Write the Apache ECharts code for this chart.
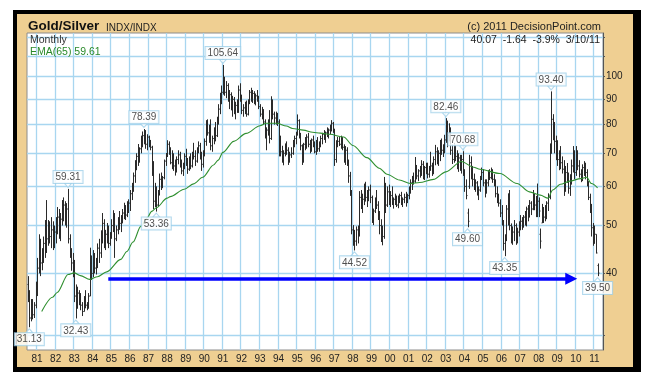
<!DOCTYPE html>
<html><head><meta charset="utf-8">
<script src="https://cdn.jsdelivr.net/npm/echarts@6/dist/echarts.min.js"></script>
<style>html,body{margin:0;padding:0;background:#fff}#c{width:648px;height:381px}</style>
</head><body><div id="c"></div>
<script>
const FONT = "'Liberation Sans', Arial, sans-serif";

// ---- categories: monthly, Jul 1980 .. Jun 2011 ----
const firstYear = 1980, firstMonth = 7, monthCount = 372;
const months = [];
for (let k = 0; k < monthCount; k++) {
  const t = (firstMonth - 1) + k;
  months.push((firstYear + Math.floor(t / 12)) + '-' + String(t % 12 + 1).padStart(2, '0'));
}

// ---- monthly OHLC of the Gold/Silver ratio, Jul 1980 .. Mar 2011 ----
const open = [
 38,36,32.5,34.5,33,34.5,
 38,41,45,42,44,46,49,47,50,47.5,49,46,
 48.5,50,52,49,51.5,54,55,52,54,47,44.5,42,
 40,36,34,36.5,35,34.5,33.5,35.5,34.5,34,36,42,
 40,42,41,42.5,45,44,47.5,50.5,46.5,48,49,46,
 48,50,52,47,49,51.5,50.5,52,53,54,52.5,55,
 55.5,58,60,63,65.5,69,70,71.5,74,76,75,73,
 75.5,73,72,64,56,59,55,58,62,61,62.5,67.5,
 69,73,70.5,67,69.5,66,65,68,69.5,66.5,64.5,66,
 69,67,65,68.5,66,70,69,67.5,71.5,72.5,69,66.5,
 70,74,80,77,78.5,72.5,75,78,76,82,86,91,
 93,98,93,96,90,92,87,90,85.5,87.5,85,94,
 90.5,85.5,86.5,88.5,84,89,93,90.5,92.5,89,91.5,90,
 87,84,85,81,76.5,78,77,75,88,84,82.5,83.5,
 81,74,70.5,68,70,72.5,71,67.5,69.5,70,73.5,75,
 76.5,81.5,76,72.5,67.5,73,72,75.5,73,71,74.5,72.5,
 70.5,73.5,71.5,73,75,76.5,75,77,76,78,79,80.5,
 78,68,73,74,73,75,72,68,71,67,63,58.5,
 49,47,46.5,49,48,57,55.5,56.5,60,57,58.5,59,
 57,52,53.5,56.5,55,52.5,50,48,47.5,58,55,58.5,
 56,57.5,55.5,56.5,57,55,56.5,57.5,55.5,56.5,57,56,
 57.5,59.5,61,62.5,61.5,65,63,64.5,63.5,66.5,63,65.5,
 66,63.5,65.5,66,64.5,68,70.5,67,70,72.5,71,70.5,
 74.5,79,76,78.5,71,68,72,69,66.5,68.5,66,68,
 64,60,53,60,67,64,62,60,61,58,59,62,
 64,61,58.5,61,63.5,62.5,64.5,62,61,58,56.5,55.5,
 53,51,46,47,54,52,50,47,48.5,50,47,48.5,
 50,51,50,52,51,54,52,55.5,54,57,55,53,
 56,48,50.6,53,52,53,55.5,57,70,82,79,74,
 70,68,70,67,65,59,64,62,59.5,62,66,70,
 64,68,66,63.5,62,65.5,66,64,61,57,54,49.5,
 46,48,41.5
];
const high = [
 39.5,37,35.5,35.5,35,38.5,
 43,48,47,45,47.5,51.3,56.3,51.3,51,52,51,50,
 52,54.5,54,53,56.3,57,56,55.5,59.31,48,45,44,
 42.6,38,37.6,37,36.5,35,36,37,35,36.5,45.1,43.5,
 44.6,44,43,46,47,48.9,53,51.5,49,50.6,50,48.5,
 51.5,53.7,53,50,52,53.5,52.5,54,55.6,55,56,56.5,
 59,61,64,67.8,70,73.1,72,76,77.5,78.39,78,76.5,
 76,74.5,72.5,67.5,61,60,59,63.7,64,63,68,70.1,
 74.4,74,72,71,70,68,69,71,70.5,68,67,70,
 71.5,68.5,69,70,70.5,73.5,71,72,74,73.5,70.5,71,
 75,81.7,82,80,82,76,79,81,83,88,92.8,96,
 105.64,100,98,97,94,93,91.5,91,89,90,96,97,
 92,88,89,89.5,90,94,95,94,93.5,92.5,94,91.5,
 88,86.9,86,82,79,82,85.6,91.3,90,85,85,84.5,
 82,76,72.5,71,73.3,74,72,70.5,72,74.5,76,77.4,
 83.9,82,77,73,73.5,75.5,76.5,77,74.5,75,76,74,
 74.5,75.5,74,76,77,78,77.5,79,78.6,80,81.7,81,
 78.5,74.4,75.6,75.5,76,75.5,73,72.4,72,68,64.2,59,
 50.1,49,49.8,50,58.7,59,58,60.8,61.3,59,60,60.5,
 57.5,54.1,57,59,56,53.5,51.5,50,62.7,61,60,60.5,
 58.7,60,57,58,57.5,57.5,58,58.5,57,58,58.5,58,
 60,62,63,64,68.8,66.3,65,66,67.8,67.5,66,67,
 67,66,70.5,67,69,72.8,72,71,74.5,75,73,76.3,
 82.46,81.5,80.5,79,73,73.5,72.8,71,70,69.5,69.5,70.68,
 65,62,54.1,69.5,69,66,63.7,62,61.5,60,63,65.5,
 65,62,62,64.7,65,65.5,65,63.5,62,60,58,56.5,
 55,51.3,48,55,58.1,59,50.5,49.8,51.3,50.5,49.5,51,
 52.5,52,52.5,53.5,54.6,55,56.3,56,59,58,57.4,60.8,
 57,49.3,55.3,54.5,55,56,58.1,73.3,93.4,84,81,76,
 74.4,71,72.4,69,67.8,66,66.9,64,63.5,68,72.4,71,
 72.4,71,67.8,65,66.5,67.5,67,65,61.5,58,55.3,50.6,
 50,48,41.9
];
const low = [
 35,31.13,32,32.3,32.5,34,
 36,40,39.5,40.6,42,43,44,45.5,46,45,44.6,45,
 46,48,47,46.5,50,51,50,49.5,46,43,40.5,39.3,
 35,32.43,34,34.5,33.7,32.8,33.5,34,33.7,34,36,38.8,
 39.3,40,39.8,41,42,43,46,45,44.6,46,45,45.5,
 47,48.5,43,46.5,48,49,48.5,50.5,51.5,51.3,52,53,
 53.5,56.3,58.5,61,64.7,66,67,70,72,73,71.5,71,
 72,71,63,54,54.5,53.36,54.5,57.5,59,59.5,62,66,
 68.8,69.5,66.5,65,64.5,63.1,64,66.5,65.5,63.5,63,65,
 66,63.6,64.5,65,65.5,68,66,67,70,68,64.5,65.5,
 69,72.5,76,73.5,71,70.5,73,74,75.5,80,84,88,
 92,91.5,90.5,89,86,85.5,83,84,82,84.5,84.5,89,
 84,83,84,83,83.5,88,89,88.5,88,87.5,89,86,
 83,82,80,75,71,76,73.3,74.5,82,80,80,79.5,
 69,69,67,66.2,69,69.5,66.3,67,68.5,69.5,72,73,
 76,75,71,66.3,67,71,71.5,72,70,70.5,72,70,
 69.5,70.5,70.5,72,73,74.5,73.5,75.5,75,76.5,77.5,77,
 66,67,72,72.4,71.5,71,67,66.3,66,61,57.4,48,
 45.5,44.52,45.5,46,47.5,54,53,55,55.9,54.5,56,55.5,
 50.6,50.1,53,54,51.3,48,46.3,45.6,47,53,54.5,55,
 54.5,55,54.1,55,54.5,54.2,55.5,55,54.5,55.5,54.6,55.5,
 56.5,58,59,60.5,61,62,61.5,62.5,63,62,61.8,63.5,
 62.3,62.5,64.5,63,63.5,66.2,66.5,66,67.5,69.5,68.8,70,
 73.5,72,74,69.5,66.6,67,67.5,65,64.2,64.5,63.7,63,
 58.5,56.5,49.6,59.3,62,60,59,58.5,57.5,56.3,58.5,61.8,
 60,57,58,60,61.8,62,61,60,57,55.5,54.6,52,
 50,44.5,43.35,46.5,50,48.9,46,45.7,46.5,45.7,46,47.5,
 48.9,49,49.5,50,49.8,51,52,52.5,53.7,53.7,52,52,
 52,44.9,50.6,50.6,51,51.5,53.5,56.5,70,74.4,70,67.8,
 66,64.7,65,63.7,57.4,58.5,61,58,57.4,60.5,64,62,
 63,64.7,62.5,61.2,61.5,63,62,60,56.3,53,47.5,45.5,
 46,43.9,39.5
];
const close = [
 36,32.5,34.5,33,34.5,38,
 41,45,42,44,46,49,47,50,47.5,49,46,48.5,
 50,52,49,51.5,54,55,52,54,47,44.5,42,40,
 36,34,36.5,35,34.5,33.5,35.5,34.5,34,36,42,40,
 42,41,42.5,45,44,47.5,50.5,46.5,48,49,46,48,
 50,52,47,49,51.5,50.5,52,53,54,52.5,55,55.5,
 58,60,63,65.5,69,70,71.5,74,76,75,73,75.5,
 73,72,64,56,59,55,58,62,61,62.5,67.5,69,
 73,70.5,67,69.5,66,65,68,69.5,66.5,64.5,66,69,
 67,65,68.5,66,70,69,67.5,71.5,72.5,69,66.5,70,
 74,80,77,78.5,72.5,75,78,76,82,86,91,93,
 98,93,96,90,92,87,90,85.5,87.5,85,94,90.5,
 85.5,86.5,88.5,84,89,93,90.5,92.5,89,91.5,90,87,
 84,85,81,76.5,78,77,75,88,84,82.5,83.5,81,
 74,70.5,68,70,72.5,71,67.5,69.5,70,73.5,75,76.5,
 81.5,76,72.5,67.5,73,72,75.5,73,71,74.5,72.5,70.5,
 73.5,71.5,73,75,76.5,75,77,76,78,79,80.5,78,
 68,73,74,73,75,72,68,71,67,63,58.5,49,
 47,46.5,49,48,57,55.5,56.5,60,57,58.5,59,57,
 52,53.5,56.5,55,52.5,50,48,47.5,58,55,58.5,56,
 57.5,55.5,56.5,57,55,56.5,57.5,55.5,56.5,57,56,57.5,
 59.5,61,62.5,61.5,65,63,64.5,63.5,66.5,63,65.5,66,
 63.5,65.5,66,64.5,68,70.5,67,70,72.5,71,70.5,74.5,
 79,76,78.5,71,68,72,69,66.5,68.5,66,68,64,
 60,57.5,51,67,64,62,60,61,58,59,62,64,
 61,58.5,61,63.5,62.5,64.5,62,61,58,56.5,55.5,53,
 51,46,47,54,52,50,47,48.5,50,47,48.5,50,
 51,50,52,51,54,52,55.5,54,57,55,53,56,
 53.5,46.5,53,52,53,55.5,57,70,82,79,74,70,
 68,70,67,65,59,64,62,59.5,62,66,70,64,
 68,66,63.5,62,65.5,66,64,61,57,54,49.5,46,
 48,44,40.07
];

// ---- EMA(65) ----
const emaMonths = ['1981-04','1981-11','1982-02','1982-09','1983-01','1983-05','1983-11','1984-04','1984-10','1985-07',
 '1985-11','1986-03','1986-08','1986-12','1987-03','1987-06','1988-01','1988-03','1988-12','1989-06',
 '1989-12','1990-07','1990-10','1991-01','1991-08','1992-04','1993-01','1993-05','1993-12','1994-06',
 '1994-10','1995-05','1995-11','1996-04','1996-10','1997-07','1998-01','1998-10','1999-06','1999-11',
 '2000-07','2001-02','2001-08','2002-05','2003-01','2003-11','2004-07','2004-11','2005-12','2006-11',
 '2007-07','2008-02','2008-07','2008-10','2009-03','2009-09','2010-04','2010-08','2010-11','2011-03'];
const emaValues = [33.5,35.8,36.6,39.8,40.1,39.6,38.9,39.4,40.3,42.7,
 44.3,46.3,49.8,51.8,53.4,54.3,56.8,57.2,59.2,60.7,
 62.6,66.3,67.8,70.3,74.0,76.8,79.6,80.5,80.5,79.5,
 78.6,78.0,77.2,76.9,76.5,75.5,72.6,68.6,65.3,63.5,
 61.8,60.8,61.1,62.0,64.2,67.4,65.6,65.0,63.7,60.8,
 58.5,57.6,56.8,59.0,60.6,61.5,62.2,62.6,60.8,59.61];

// ---- annotated extremes ----
const peakMonths = ['1982-09','1986-10','1991-01','2003-01','2003-12','2008-09'];
const peakValues = [59.31, 78.39, 105.64, 82.46, 70.68, 93.40];
const troughMonths = ['1980-08','1983-02','1987-06','1998-02','2004-03','2006-03','2011-03'];
const troughValues = [31.13, 32.43, 53.36, 44.52, 49.60, 43.35, 39.50];

// ---- support arrow ----
const arrowStart = '1984-11', arrowEnd = '2009-10', arrowLevel = 39;

// ---- y axis ----
const yGridValues = [30, 40, 50, 60, 70, 80, 90, 100, 110, 120];
const yLabelValues = [40, 50, 60, 70, 80, 90, 100];

if (open.length !== 369 || high.length !== 369 || low.length !== 369 || close.length !== 369)
  throw new Error('len ' + [open.length, high.length, low.length, close.length].join(','));
if (emaMonths.length !== emaValues.length) throw new Error('ema len');

const idx = m => months.indexOf(m);
const ohlc = open.map((o, i) => [i, o, close[i], low[i], high[i]]);

const boxLabel = {
  show: true, distance: 0, color: '#222', fontSize: 10, fontFamily: FONT,
  backgroundColor: '#fff', borderColor: '#9fcfe9', borderWidth: 1,
  padding: [1, 2, 0, 2], lineHeight: 11,
  formatter: p => p.value[1].toFixed(2)
};

const chart = echarts.init(document.getElementById('c'), null, {renderer: 'canvas'});
chart.setOption({
  animation: false,
  textStyle: {fontFamily: FONT},
  grid: {left: 27, top: 33, width: 576, height: 317, show: true,
         backgroundColor: '#fff', borderColor: '#8c8c8c', borderWidth: 1},
  xAxis: {
    type: 'category', data: months, boundaryGap: true,
    axisLine: {show: false}, axisTick: {show: false},
    axisLabel: {interval: (i, v) => v.endsWith('-01'), formatter: v => v.slice(2, 4),
                margin: 4, color: '#222', fontSize: 10, fontFamily: FONT},
    splitLine: {show: true, interval: (i, v) => v.endsWith('-01'),
                lineStyle: {color: '#a8d6f0', width: 1.3}}
  },
  yAxis: {
    type: 'log', logBase: 10, min: 28, max: 122.6, position: 'right',
    axisLine: {show: true, lineStyle: {color: '#555', width: 1}},
    axisTick: {show: true, length: 2, customValues: yGridValues, lineStyle: {color: '#555'}},
    axisLabel: {customValues: yLabelValues, margin: 3, color: '#222', fontSize: 10, fontFamily: FONT},
    splitLine: {show: true, lineStyle: {color: '#a8d6f0', width: 1.3}}
  },
  graphic: [
    {type: 'rect', z: -100, silent: true, shape: {x: 13, y: 10, width: 628, height: 362}, style: {fill: '#000'}},
    {type: 'rect', z: -99, silent: true, shape: {x: 17, y: 14, width: 616, height: 353}, style: {fill: '#efcf92'}},
    {type: 'text', z: 50, silent: true, style: {x: 28, y: 26.5, text: 'Gold/Silver', fontSize: 13.5, fontWeight: 'bold', fontFamily: FONT, fill: '#111', verticalAlign: 'middle'}},
    {type: 'text', z: 50, silent: true, style: {x: 106, y: 28, text: 'INDX/INDX', fontSize: 10, fontFamily: FONT, fill: '#222', verticalAlign: 'middle'}},
    {type: 'text', z: 50, silent: true, style: {x: 30, y: 40, text: 'Monthly', fontSize: 10.5, fontFamily: FONT, fill: '#333', verticalAlign: 'middle'}},
    {type: 'text', z: 50, silent: true, style: {x: 30, y: 52, text: 'EMA(65) 59.61', fontSize: 10.5, fontFamily: FONT, fill: '#2a8a2a', verticalAlign: 'middle'}},
    {type: 'text', z: 50, silent: true, style: {x: 601, y: 27, text: '(c) 2011 DecisionPoint.com', fontSize: 11, fontFamily: FONT, fill: '#222', align: 'right', verticalAlign: 'middle'}},
    {type: 'text', z: 50, silent: true, style: {x: 600, y: 40, text: '40.07  -1.64  -3.9%  3/10/11', fontSize: 10.5, fontFamily: FONT, fill: '#222', align: 'right', verticalAlign: 'middle'}}
  ],
  series: [
    {
      type: 'custom', name: 'Gold/Silver', data: ohlc, encode: {x: 0, y: [1, 2, 3, 4]}, z: 3, silent: true,
      renderItem: (params, api) => {
        const i = api.value(0);
        const pO = api.coord([i, api.value(1)]), pC = api.coord([i, api.value(2)]);
        const pL = api.coord([i, api.value(3)]), pH = api.coord([i, api.value(4)]);
        const x = Math.round(pO[0]) + 0.5;
        const st = {stroke: '#2a2a2a', lineWidth: 1};
        return {type: 'group', children: [
          {type: 'line', shape: {x1: x, y1: pL[1], x2: x, y2: pH[1]}, style: st},
          {type: 'line', shape: {x1: x - 1, y1: pO[1], x2: x, y2: pO[1]}, style: st},
          {type: 'line', shape: {x1: x, y1: pC[1], x2: x + 1, y2: pC[1]}, style: st}
        ]};
      }
    },
    {
      type: 'line', name: 'EMA(65)', data: emaMonths.map((m, k) => [idx(m), emaValues[k]]),
      showSymbol: false, smooth: 0.3, smoothMonotone: 'x', z: 4, silent: true,
      lineStyle: {color: '#2f8f2f', width: 1.1},
      markLine: {
        silent: true, symbol: ['none', 'triangle'], symbolSize: 12, label: {show: false},
        lineStyle: {color: '#0000ff', width: 3.5, type: 'solid'},
        emphasis: {disabled: true},
        data: [[{coord: [idx(arrowStart), arrowLevel]}, {coord: [idx(arrowEnd), arrowLevel]}]]
      }
    },
    {
      type: 'scatter', name: 'peaks', z: 10, silent: true,
      data: peakMonths.map((m, k) => [idx(m), peakValues[k]]),
      symbol: 'path://M0,0L10,0L5,6Z', symbolSize: [7, 4], symbolOffset: [0, -3.5],
      itemStyle: {color: '#fff', borderColor: '#9fcfe9', borderWidth: 1},
      label: Object.assign({position: 'top'}, boxLabel)
    },
    {
      type: 'scatter', name: 'troughs', z: 10, silent: true,
      data: troughMonths.map((m, k) => [idx(m), troughValues[k]]),
      symbol: 'path://M5,0L10,6L0,6Z', symbolSize: [7, 4], symbolOffset: [0, 3.5],
      itemStyle: {color: '#fff', borderColor: '#9fcfe9', borderWidth: 1},
      label: Object.assign({position: 'bottom'}, boxLabel)
    }
  ]
});
</script>
</body></html>
